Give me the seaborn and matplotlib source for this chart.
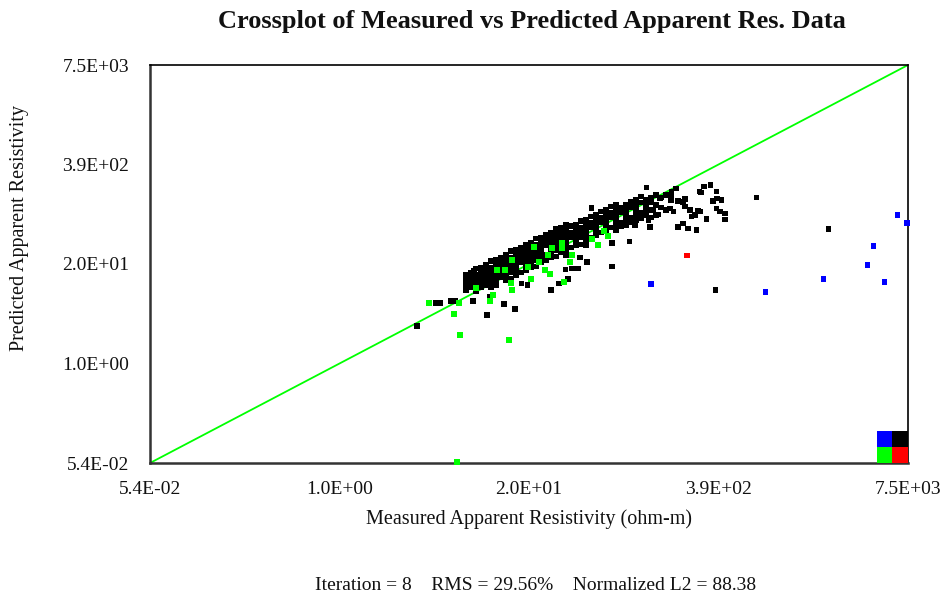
import numpy as np
import pandas as pd
import matplotlib
matplotlib.use("Agg")
import matplotlib.pyplot as plt
import seaborn as sns
from matplotlib.patches import Rectangle
from matplotlib.ticker import NullLocator

sns.set_style("white")
plt.rcParams['font.family'] = ['Liberation Serif', 'DejaVu Serif']

# ---------------- data (ohm-m) ----------------
axis_min = 0.054
axis_max = 7500.0
tick_labels = ["5.4E-02", "1.0E+00", "2.0E+01", "3.9E+02", "7.5E+03"]

# dense black band: measured value per column, predicted values in that column
band_measured = [7.51, 8.12, 8.78, 9.50, 10.3, 11.1, 12.0, 13.0, 14.0, 15.2,
                 16.4, 17.7, 19.2, 20.7, 22.4, 24.3, 26.2, 28.4, 30.6, 33.1,
                 35.8, 38.7, 41.9, 45.3, 49.0, 53.0, 57.3, 61.9, 67.0, 72.4,
                 78.3, 84.6, 91.5, 98.9, 107, 116, 125, 135, 146, 158, 171, 185]
band_predicted = [
    [14.5, 12.5, 10.8, 9.28],
    [15.6, 13.5, 11.6, 10.0],
    [17.5, 14.5, 12.5, 10.8, 9.0],
    [18.1, 15.6, 13.5, 11.6, 10.0],
    [19.5, 16.8, 14.5, 12.5, 10.8],
    [21.9, 18.1, 15.6, 13.5, 11.6, 10.2],
    [22.7, 19.5, 16.8, 14.5, 12.5, 10.8],
    [24.4, 21.0, 18.1, 15.6, 13.5],
    [26.3, 22.7, 19.5, 16.8, 14.5, 12.5],
    [29.5, 24.4, 21.0, 18.1, 15.6, 12.9],
    [30.5, 26.3, 22.7, 19.5, 16.8, 14.5],
    [32.9, 28.3, 24.4, 21.0, 15.6],
    [35.4, 30.5, 26.3, 22.7, 19.5, 16.8],
    [38.2, 32.9, 28.3, 24.4, 21.0, 18.1],
    [43.0, 35.4, 30.5, 26.3, 22.7, 18.6],
    [44.3, 38.2, 32.9, 28.3, 24.4, 21.0],
    [47.7, 41.1, 35.4, 26.3, 22.7],
    [51.4, 44.3, 38.2, 32.9, 28.3, 24.4],
    [57.0, 47.7, 41.1, 35.4, 30.5, 25.0],
    [59.6, 51.4, 44.3, 38.2, 32.9, 28.3],
    [64.2, 55.3, 47.7, 41.1, 35.4, 30.5, 26.3],
    [62.0, 51.4, 44.3, 32.9],
    [64.2, 55.3, 47.7, 41.1, 35.4],
    [72.0, 59.6, 51.4, 44.3, 36.0],
    [74.5, 64.2, 55.3, 47.7, 41.1, 35.4],
    [83.0, 69.2, 59.6, 44.3],
    [86.5, 74.5, 64.2, 55.3, 47.7],
    [96.0, 80.3, 69.2, 51.4],
    [100, 86.5, 74.5, 64.2, 55.3],
    [112, 93.1, 80.3, 59.6],
    [116, 100, 86.5, 74.5, 64.2, 55.3],
    [108, 93.1, 69.2, 62.0],
    [116, 100, 86.5, 74.5, 64.2],
    [128, 108, 80.3, 70.0],
    [135, 116, 100, 86.5, 74.5],
    [150, 125, 93.1, 80.0],
    [135, 116, 100, 86.5],
    [146, 125, 100, 80.0],
    [157, 116, 86.5],
    [146, 108],
    [157, 100],
    [135],
]

# scattered black points
black_measured = [3.49, 4.70, 5.00, 5.94, 6.33, 8.40, 10.4, 13.6, 16.2, 10.9,
                  8.51, 17.9, 19.7, 28.4, 32.1, 37.0, 35.7, 39.5, 43.2, 50.0,
                  44.6, 73.5, 73.5, 96.4, 53.5, 53.5, 126, 117, 105, 133,
                  130, 140, 151, 156, 187, 200, 182, 192, 207, 224,
                  230, 249, 255, 269, 283, 207, 224, 242, 276, 323,
                  288, 309, 344, 377, 381, 355, 408, 377, 397, 430,
                  430, 295, 291, 705, 2170, 371, 187, 230]
black_predicted = [3.18, 6.30, 6.30, 6.69, 6.69, 6.69, 4.41, 6.12, 5.27, 7.65,
                   16.3, 11.3, 10.8, 9.28, 11.3, 12.9, 17.2, 17.7, 17.7, 21.3,
                   24.3, 18.6, 37.9, 39.5, 107, 82.2, 195, 78.3, 64.2, 61.0,
                   74.5, 100, 88.3, 142, 173, 191, 105, 95.4, 131, 128,
                   111, 100, 82.2, 86.5, 97.3, 61.0, 67.5, 58.2, 55.3, 76.7,
                   173, 201, 211, 173, 142, 131, 135, 105, 95.4, 90.9,
                   76.1, 168, 95.4, 145, 57.0, 9.28, 157, 139]

green_measured = [4.22, 6.74, 6.23, 6.84, 14.7, 6.53, 8.78, 10.9, 11.5, 12.2,
                  13.8, 15.4, 15.2, 15.4, 19.8, 20.7, 21.7, 23.5, 25.8, 28.8,
                  33.7, 34.7, 33.7, 38.1, 39.4, 53.8, 59.1, 64.9, 69.0, 27.9, 27.0]
green_predicted = [6.30, 6.30, 4.55, 2.43, 2.10, 0.0556, 9.85, 6.69, 8.00, 16.8,
                   16.8, 22.7, 11.4, 9.30, 18.4, 12.9, 33.4, 21.3, 16.8, 32.4,
                   32.4, 11.8, 37.6, 21.3, 26.3, 42.4, 35.4, 53.7, 46.3, 14.9, 26.3]

blue_measured = [135, 811, 2009, 3990, 4385, 5200, 6380, 7400]
blue_predicted = [11.1, 8.8, 12.9, 19.5, 34.4, 11.7, 87.0, 68.7]

red_measured = [238]
red_predicted = [25.8]

point_colors = {"black": "#000000", "green": "#00ff00", "blue": "#0000ff", "red": "#ff0000"}

# ---------------- build table ----------------
rows = []
for m, preds in zip(band_measured, band_predicted):
    for p in preds:
        rows.append((m, p, "black"))
for m, p in zip(black_measured, black_predicted):
    rows.append((m, p, "black"))
for m, p in zip(green_measured, green_predicted):
    rows.append((m, p, "green"))
for m, p in zip(blue_measured, blue_predicted):
    rows.append((m, p, "blue"))
for m, p in zip(red_measured, red_predicted):
    rows.append((m, p, "red"))
df = pd.DataFrame(rows, columns=["measured", "predicted", "group"])

# ---------------- figure ----------------
fig = plt.figure(figsize=(9.4, 5.97), dpi=100)
ax = fig.add_axes([150 / 940, 1 - 463 / 597, 758 / 940, 398 / 597])
ax.set_xscale("log")
ax.set_yscale("log")

ax.plot([axis_min, axis_max], [axis_min, axis_max], color="#00ff00", lw=1.3, zorder=1)

sns.scatterplot(data=df, x="measured", y="predicted", hue="group",
                palette=point_colors, marker="s", s=16, linewidth=0,
                legend=False, ax=ax, zorder=3, clip_on=False)

ax.set_xlim(axis_min, axis_max)
ax.set_ylim(axis_min, axis_max)
tick_vals = np.geomspace(axis_min, axis_max, len(tick_labels))
ax.set_xticks(tick_vals)
ax.set_xticklabels(tick_labels)
ax.set_yticks(tick_vals)
ax.set_yticklabels(tick_labels)
ax.xaxis.set_minor_locator(NullLocator())
ax.yaxis.set_minor_locator(NullLocator())

for side in ["left", "bottom"]:
    ax.spines[side].set_color("#333333")
    ax.spines[side].set_linewidth(1.8)
for side in ["top", "right"]:
    ax.spines[side].set_color("#000000")
    ax.spines[side].set_linewidth(1.2)

ax.tick_params(axis="y", direction="out", length=9, width=1.3, color="#333333",
               pad=6, labelsize=14, labelcolor="#111111")
ax.tick_params(axis="x", direction="out", length=5, width=1.3, color="#333333",
               pad=8, labelsize=14, labelcolor="#111111")

ax.set_xlabel("Measured Apparent Resistivity (ohm-m)", fontsize=14.5, color="#111111")
ax.xaxis.set_label_coords(0.5, -0.115)
ax.set_ylabel("Predicted Apparent Resistivity", fontsize=14.5, color="#111111")
ax.yaxis.set_label_coords(-0.160, 0.59)

# colour key squares at lower-right corner
key = [((0.959, 0.0402), "#0000ff"), ((0.9795, 0.0402), "#000000"),
       ((0.959, 0.0), "#00ff00"), ((0.9795, 0.0), "#ff0000")]
for (x0, y0), c in key:
    ax.add_patch(Rectangle((x0, y0), 0.0205, 0.0402, transform=ax.transAxes,
                           facecolor=c, edgecolor="none", clip_on=False, zorder=4))

fig.text(0.566, 0.964, "Crossplot of Measured vs Predicted Apparent Res. Data",
         ha="center", va="center", fontsize=19, fontweight="bold", color="#111111")
fig.text(0.570, 0.020, "Iteration = 8    RMS = 29.56%    Normalized L2 = 88.38",
         ha="center", va="center", fontsize=14, color="#111111")

fig.savefig("out.png", dpi=100, facecolor="white")
